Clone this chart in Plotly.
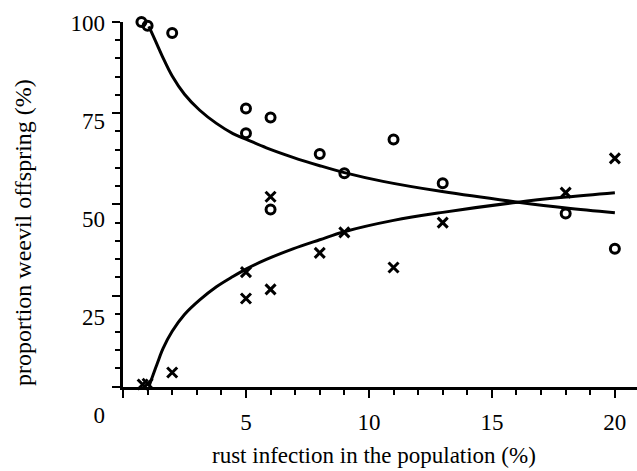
import plotly.graph_objects as go

# ---- data ----
infection_circle = [0.75, 1.0, 2.0, 5, 5, 6, 6, 8, 9, 11, 13, 18, 20]
offspring_circle = [100, 99, 97, 76.3, 69.5, 73.8, 48.6, 63.8, 58.5, 67.8, 55.8, 47.5, 37.8]

infection_cross = [0.8, 1.0, 2.0, 5, 5, 6, 6, 8, 9, 11, 13, 18, 20]
offspring_cross = [0.6, 0.8, 3.9, 31.4, 24.2, 26.7, 52.1, 36.7, 42.3, 32.7, 45.0, 53.2, 62.6]

fit_upper_x = [1.05, 1.2, 1.4, 1.6, 2.0, 2.5, 3.12, 3.8, 4.47, 5.02, 5.83, 6.91, 8.0,
               9.0, 10.57, 12.98, 16.06, 18.02, 20.0]
fit_upper_y = [98.8, 96.6, 93.6, 90.6, 85.2, 80.2, 75.8, 72.2, 69.4, 67.8, 65.5, 62.9, 60.6,
               58.7, 56.3, 53.5, 50.6, 49.0, 47.7]

fit_lower_x = [1.05, 1.2, 1.4, 1.63, 2.0, 2.5, 3.12, 3.8, 4.47, 5.02, 5.83, 6.91, 8.0,
               9.0, 11.0, 13.0, 16.06, 18.02, 20.0]
fit_lower_y = [0.0, 2.8, 6.5, 10.5, 15.2, 19.8, 23.8, 27.4, 30.2, 32.3, 34.9, 37.8, 40.3,
               42.5, 45.6, 47.8, 50.6, 52.0, 53.2]

x_ticks = [0, 5, 10, 15, 20]
x_ticktext = ["", "5", "10", "15", "20"]
y_ticks = [0, 25, 50, 75, 100]
y_ticktext = ["0", "25", "50", "75", "100"]

x_title = "rust infection in the population (%)"
y_title = "proportion weevil offspring (%)"

FONT = "Liberation Serif, Times New Roman, serif"

fig = go.Figure()
# label-only axis (the reference's tick labels sit on a slightly different scale)
fig.add_trace(go.Scatter(x=[None], y=[None], yaxis="y2", showlegend=False, hoverinfo="skip"))

line_style = dict(color="black", width=3, shape="spline")
fig.add_trace(go.Scatter(x=fit_upper_x, y=fit_upper_y, mode="lines", line=line_style,
                         showlegend=False, hoverinfo="skip"))
fig.add_trace(go.Scatter(x=fit_lower_x, y=fit_lower_y, mode="lines", line=line_style,
                         showlegend=False, hoverinfo="skip"))
fig.add_trace(go.Scatter(x=infection_circle, y=offspring_circle, mode="markers",
                         marker=dict(symbol="circle-open", size=9, color="black",
                                     line=dict(width=3, color="black")),
                         cliponaxis=False, showlegend=False))
fig.add_trace(go.Scatter(x=infection_cross, y=offspring_cross, mode="markers",
                         marker=dict(symbol="x-thin-open", size=10, color="black",
                                     line=dict(width=3, color="black")),
                         cliponaxis=False, showlegend=False))

W, H = 637, 471
mt, mb, ml, mr = 22, 40, 123, 0
ph = H - mt - mb
pw = W - ml - mr

def py(pix):
    return (H - mb - pix) / ph

def px(pix):
    return (pix - ml) / pw

fig.update_layout(
    width=W, height=H, template="none",
    margin=dict(l=ml, r=mr, t=mt, b=mb, pad=0, autoexpand=False),
    paper_bgcolor="white", plot_bgcolor="rgba(0,0,0,0)",
    font=dict(family=FONT, size=23, color="black"),
    xaxis=dict(range=[0, 20.9], showline=True, linewidth=3, linecolor="black",
               ticks="outside", ticklen=8, tickwidth=2, tickcolor="black",
               tickmode="array", tickvals=x_ticks, ticktext=x_ticktext,
               minor=dict(dtick=1, tick0=0, ticks="outside", ticklen=5, tickwidth=2,
                          tickcolor="black", showgrid=False),
               showgrid=False, zeroline=False, automargin=False, anchor="y",
               tickfont=dict(family=FONT, size=23), ticklabelstandoff=5),
    yaxis=dict(range=[0, 100], domain=[py(386.7), 1], showline=True, linewidth=3,
               linecolor="black", ticks="outside", ticklen=8, tickwidth=2,
               tickcolor="black", tickmode="array", tickvals=y_ticks,
               showticklabels=False,
               minor=dict(dtick=5, tick0=0, ticks="outside", ticklen=5, tickwidth=2,
                          tickcolor="black", showgrid=False),
               showgrid=False, zeroline=False, automargin=False, anchor="x"),
    yaxis2=dict(range=[0, 100], domain=[py(415), py(23.3)], anchor="free", position=0,
                showline=False, ticks="", tickmode="array", tickvals=y_ticks,
                ticktext=y_ticktext, showgrid=False, zeroline=False, automargin=False,
                tickfont=dict(family=FONT, size=23), ticklabelstandoff=18),
    annotations=[
        dict(text=x_title, xref="paper", yref="paper", x=px(374), y=py(455),
             xanchor="center", yanchor="middle", showarrow=False,
             font=dict(family=FONT, size=23)),
        dict(text=y_title, xref="paper", yref="paper", x=px(23), y=py(233),
             xanchor="center", yanchor="middle", textangle=-90, showarrow=False,
             font=dict(family=FONT, size=24)),
    ],
)

fig.write_html("out.html")
